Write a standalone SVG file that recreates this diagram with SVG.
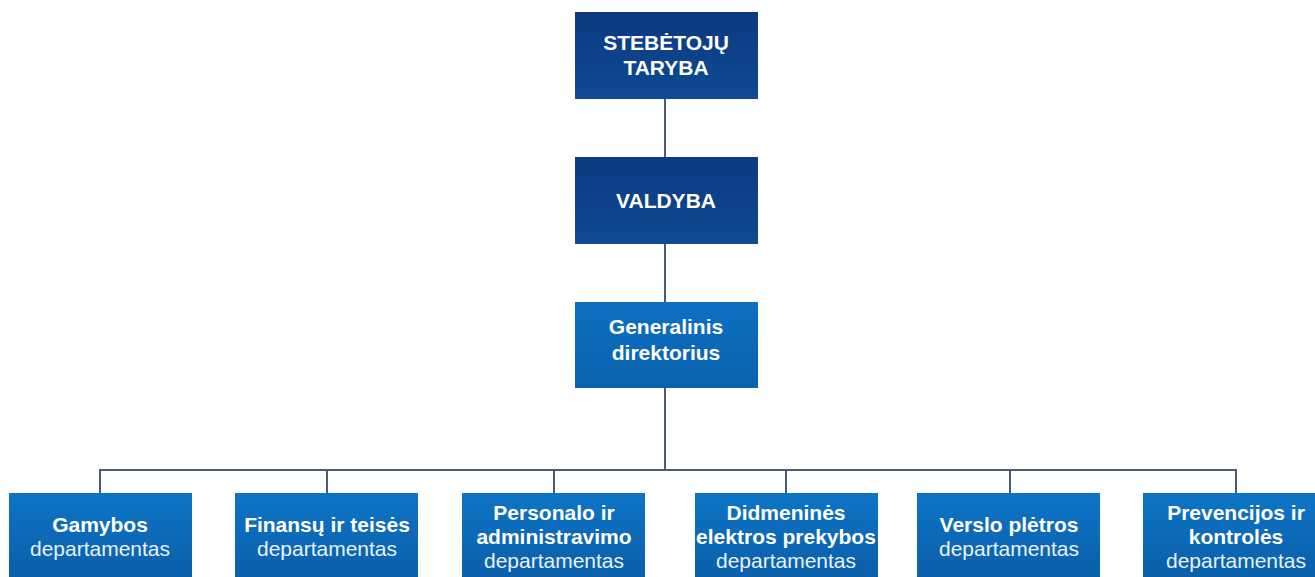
<svg xmlns="http://www.w3.org/2000/svg" width="1315" height="577" viewBox="0 0 1315 577">
<defs>
<linearGradient id="gNavy" x1="0" y1="0" x2="0" y2="1">
<stop offset="0" stop-color="#0b3a80"/>
<stop offset="1" stop-color="#0f4a92"/>
</linearGradient>
<linearGradient id="gMid" x1="0" y1="0" x2="0" y2="1">
<stop offset="0" stop-color="#0c70c2"/>
<stop offset="1" stop-color="#0a62ae"/>
</linearGradient>
<linearGradient id="gDept" x1="0" y1="0" x2="0" y2="1">
<stop offset="0" stop-color="#0e74c6"/>
<stop offset="1" stop-color="#0a5ea8"/>
</linearGradient>
<style>
.navy{fill:url(#gNavy)}
.mid{fill:url(#gMid)}
.dept{fill:url(#gDept)}
.edge{fill:none;stroke:#4d5a75;stroke-width:2}
text{font-family:"Liberation Sans",Arial,sans-serif;font-size:21px;fill:#ffffff;text-anchor:middle}
.b{font-weight:bold}
.r{fill:#e8f1fb}
</style>
</defs>
<rect width="1315" height="577" fill="#ffffff"/>
<g id="connectors">
<path class="edge" d="M665 99V157M665 244V302M665 388V470"/>
<path class="edge" d="M100 493V470H1236V493M327 470V493M554 470V493M786 470V493M1010 470V493"/>
</g>
<g id="n-stebetoju">
<rect class="navy" x="575" y="12" width="183" height="87"/>
<text class="b" x="666" y="50">STEBĖTOJŲ</text>
<text class="b" x="666" y="75">TARYBA</text>
</g>
<g id="n-valdyba">
<rect class="navy" x="575" y="157" width="183" height="87"/>
<text class="b" x="666" y="208">VALDYBA</text>
</g>
<g id="n-generalinis">
<rect class="mid" x="575" y="302" width="183" height="86"/>
<text class="b" x="666" y="334">Generalinis</text>
<text class="b" x="666" y="360">direktorius</text>
</g>
<g id="n-gamybos">
<rect class="dept" x="9" y="493" width="183" height="90"/>
<text class="b" x="100" y="532">Gamybos</text>
<text class="r" x="100" y="556">departamentas</text>
</g>
<g id="n-finansu">
<rect class="dept" x="235" y="493" width="183" height="90"/>
<text class="b" x="327" y="532">Finansų ir teisės</text>
<text class="r" x="327" y="556">departamentas</text>
</g>
<g id="n-personalo">
<rect class="dept" x="462" y="493" width="183" height="90"/>
<text class="b" x="554" y="520">Personalo ir</text>
<text class="b" x="554" y="544">administravimo</text>
<text class="r" x="554" y="568">departamentas</text>
</g>
<g id="n-didmenines">
<rect class="dept" x="695" y="493" width="183" height="90"/>
<text class="b" x="786" y="520">Didmeninės</text>
<text class="b" x="786" y="544">elektros prekybos</text>
<text class="r" x="786" y="568">departamentas</text>
</g>
<g id="n-verslo">
<rect class="dept" x="917" y="493" width="183" height="90"/>
<text class="b" x="1009" y="532">Verslo plėtros</text>
<text class="r" x="1009" y="556">departamentas</text>
</g>
<g id="n-prevencijos">
<rect class="dept" x="1143" y="493" width="183" height="90"/>
<text class="b" x="1236" y="520">Prevencijos ir</text>
<text class="b" x="1236" y="544">kontrolės</text>
<text class="r" x="1236" y="568">departamentas</text>
</g>
</svg>
